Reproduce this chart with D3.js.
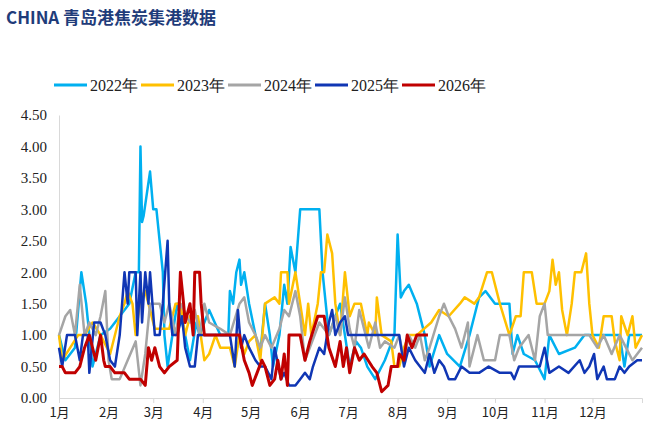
<!DOCTYPE html>
<html>
<head>
<meta charset="utf-8">
<script src="https://cdn.jsdelivr.net/npm/d3@7"></script>
<style>
  body { margin: 0; background: #fff; }
  svg { display: block; }
</style>
</head>
<body>
<svg id="chart" width="665" height="441"></svg>
<script>
// day of year, value pairs
var years = ["2022年", "2023年", "2024年", "2025年", "2026年"];
var colors = ["#00B0F0", "#FFC000", "#A5A5A5", "#1036B4", "#C00000"];
var monthStarts = [0, 31, 59, 90, 120, 151, 181, 212, 243, 273, 304, 334];
var monthLabels = ["1月", "2月", "3月", "4月", "5月", "6月", "7月", "8月", "9月", "10月", "11月", "12月"];
var yTicks = [0, 0.5, 1, 1.5, 2, 2.5, 3, 3.5, 4, 4.5];

var s2022 = [0,1.0, 4,0.6, 10,0.8, 14,2.0, 17,1.5, 21,0.5, 26,1.0, 32,1.1, 38,1.3, 44,1.5, 48,2.0, 50,2.0, 51,4.0, 52,2.8, 53,2.9, 57,3.6, 59,3.0, 61,3.0, 63,2.5, 65,2.0, 66,1.0, 68,0.5, 71,1.0, 74,1.5, 79,1.0, 82,0.6, 86,1.2, 88,1.0, 94,1.4, 101,1.0, 106,1.0, 107,1.7, 109,1.5, 111,2.0, 113,2.2, 114,1.8, 116,2.0, 119,1.5, 123,1.0, 126,0.7, 129,1.5, 132,1.0, 134,0.5, 138,1.0, 141,1.8, 143,1.5, 145,2.4, 148,2.0, 151,3.0, 163,3.0, 165,2.0, 167,1.5, 169,1.0, 173,1.3, 176,1.5, 179,1.0, 182,0.5, 186,0.9, 189,0.8, 193,0.5, 198,0.3, 204,0.6, 210,1.0, 212,2.6, 214,1.6, 216,1.7, 219,1.8, 224,1.5, 229,1.0, 232,0.5, 238,1.0, 243,0.7, 251,0.5, 257,1.0, 261,1.4, 263,1.6, 267,1.7, 273,1.5, 282,1.5, 284,0.7, 287,1.0, 291,0.7, 298,0.6, 304,0.3, 307,1.0, 313,0.7, 323,0.8, 329,1.0, 351,1.0, 354,0.5, 357,1.0, 365,1.0];
var s2023 = [0,1.0, 2,0.6, 7,0.8, 12,1.0, 16,1.0, 21,1.2, 26,1.0, 32,0.7, 38,1.3, 41,1.5, 43,1.7, 46,1.5, 48,1.0, 51,1.6, 54,1.7, 56,1.5, 60,1.1, 69,1.1, 73,1.5, 76,1.5, 79,1.0, 82,1.3, 87,1.3, 91,0.6, 94,0.7, 98,1.0, 101,0.8, 107,0.8, 110,0.5, 113,1.0, 116,0.7, 119,0.9, 123,1.0, 126,0.6, 129,1.5, 135,1.6, 138,1.5, 139,2.0, 143,2.0, 144,1.5, 148,2.0, 151,1.5, 154,1.0, 156,1.5, 158,1.0, 162,1.5, 164,2.0, 166,2.0, 168,2.6, 171,2.3, 173,1.5, 176,1.0, 179,2.0, 182,1.3, 185,1.5, 189,1.5, 193,1.0, 194,1.2, 198,1.0, 199,1.6, 202,1.0, 208,0.9, 210,0.5, 213,0.5, 216,0.8, 219,1.0, 224,1.0, 233,1.2, 238,1.4, 244,1.3, 251,1.5, 254,1.6, 260,1.5, 263,1.6, 268,2.0, 271,2.0, 276,1.5, 282,1.0, 286,1.3, 289,1.3, 291,2.0, 296,2.0, 299,1.5, 304,1.5, 307,1.7, 309,2.2, 311,1.8, 313,2.0, 315,1.4, 318,1.0, 321,1.5, 323,2.0, 327,2.0, 330,2.3, 332,1.5, 334,1.0, 338,0.8, 341,1.3, 346,1.3, 348,0.9, 351,0.6, 352,1.3, 356,1.0, 359,1.3, 361,0.8, 365,1.0];
var s2024 = [0,1.0, 4,1.3, 7,1.4, 10,1.0, 13,1.8, 16,1.0, 19,1.2, 23,1.0, 26,1.3, 29,1.7, 31,0.6, 33,0.3, 38,0.3, 43,0.6, 48,0.9, 51,0.2, 54,0.7, 57,1.5, 63,1.5, 66,1.2, 69,1.5, 73,1.0, 76,1.5, 82,1.2, 85,1.4, 88,1.0, 91,1.5, 94,1.2, 101,1.1, 107,1.0, 113,1.5, 116,1.6, 119,1.2, 123,1.0, 126,0.8, 129,1.0, 133,0.8, 138,1.1, 141,1.4, 144,1.3, 148,1.7, 151,1.3, 154,0.6, 157,0.8, 163,1.2, 169,1.0, 173,1.3, 176,1.0, 179,1.6, 182,1.1, 185,0.8, 188,1.4, 191,1.1, 194,0.8, 198,1.2, 201,0.8, 204,0.9, 210,0.8, 213,1.0, 216,0.6, 219,1.0, 223,0.8, 226,1.0, 229,0.6, 232,0.8, 238,1.3, 241,1.5, 244,1.3, 248,1.1, 252,0.8, 256,1.2, 257,0.5, 262,1.0, 266,0.6, 273,0.6, 276,1.0, 282,1.0, 285,0.6, 288,0.8, 294,1.0, 298,0.6, 301,1.3, 304,1.5, 306,1.0, 308,1.0, 313,1.0, 323,1.0, 332,1.0, 337,0.8, 341,1.0, 346,0.7, 351,1.0, 355,0.8, 359,0.6, 365,0.8];
var s2025 = [0,0.8, 2,0.5, 5,1.0, 10,1.0, 13,0.6, 15,1.0, 18,1.0, 19,0.4, 22,1.2, 26,1.2, 29,1.0, 32,0.6, 35,0.5, 38,1.0, 41,2.0, 43,1.5, 44,2.0, 48,2.0, 49,1.0, 51,2.0, 52,1.2, 54,2.0, 56,1.5, 57,2.0, 60,1.0, 63,1.0, 65,1.5, 68,2.5, 69,1.5, 71,1.0, 74,1.0, 77,1.3, 79,0.8, 82,0.5, 85,0.5, 87,1.0, 107,1.0, 110,0.5, 112,1.4, 114,0.8, 116,1.0, 119,0.8, 123,0.6, 126,0.5, 129,0.5, 133,0.3, 135,0.8, 139,0.3, 141,0.4, 144,0.2, 148,0.2, 151,0.3, 154,0.4, 157,0.3, 159,0.5, 163,0.8, 166,0.7, 169,1.2, 171,1.4, 173,1.0, 176,1.2, 179,1.3, 181,1.0, 213,1.0, 216,0.5, 219,0.8, 223,0.6, 226,0.5, 229,0.4, 232,0.7, 235,0.4, 238,0.6, 241,0.5, 244,0.3, 248,0.3, 252,0.5, 257,0.4, 263,0.4, 269,0.5, 276,0.4, 283,0.4, 285,0.3, 288,0.5, 301,0.5, 304,0.8, 307,0.4, 313,0.5, 319,0.4, 326,0.6, 329,0.4, 332,0.5, 335,0.7, 337,0.3, 341,0.5, 343,0.3, 348,0.3, 351,0.5, 354,0.4, 357,0.5, 362,0.6, 365,0.6];
var s2026 = [0,0.5, 2,0.5, 4,0.4, 10,0.4, 13,0.5, 16,0.8, 19,1.0, 23,0.6, 26,1.0, 28,0.6, 29,0.5, 32,0.5, 35,0.4, 41,0.4, 44,0.3, 51,0.3, 54,0.2, 56,0.8, 58,0.6, 60,0.8, 63,0.5, 66,0.4, 69,0.5, 74,0.6, 76,2.0, 78,1.5, 79,1.2, 82,1.5, 84,1.0, 85,2.0, 88,2.0, 89,1.5, 91,1.0, 113,1.0, 116,0.6, 119,0.4, 121,0.2, 124,0.4, 127,0.6, 129,0.5, 132,0.2, 135,0.3, 137,0.6, 139,0.3, 141,0.7, 143,0.2, 144,1.0, 151,1.0, 154,0.6, 157,0.9, 162,1.3, 166,1.3, 169,0.8, 173,0.5, 176,0.9, 178,0.5, 180,0.8, 182,0.4, 185,0.8, 188,0.6, 191,0.7, 196,0.5, 199,0.4, 202,0.1, 206,0.2, 208,0.5, 212,0.5, 213,0.7, 216,0.6, 218,1.0, 221,0.8, 224,1.0, 231,1.0];

var allSeries = [s2022, s2023, s2024, s2025, s2026];

var svg = d3.select("#chart");
var plotLeft = 59, plotRight = 642, plotTop = 115, plotBottom = 398;

var x = d3.scaleLinear().domain([0, 365]).range([plotLeft, plotRight]);
var y = d3.scaleLinear().domain([0, 4.5]).range([plotBottom, plotTop]);

// title
svg.append("text")
    .attr("x", 6).attr("y", 24)
    .style("font", "bold 17px 'Noto Sans CJK SC', sans-serif")
    .attr("fill", "#1F3C7A")
    .text("CHINA 青岛港焦炭集港数据");

// axes
var yAxis = d3.axisLeft(y).tickValues(yTicks).tickSize(0).tickPadding(12)
    .tickFormat(d3.format(".2f"));
var gy = svg.append("g").attr("transform", "translate(" + plotLeft + ",0)").call(yAxis);
gy.select(".domain").attr("stroke", "#D9D9D9");
gy.selectAll("text").style("font", "15px 'Liberation Serif', serif").attr("fill", "#222");

var xAxis = d3.axisBottom(x).tickValues(monthStarts).tickSize(5).tickPadding(5)
    .tickFormat(function (d, i) { return monthLabels[i]; });
var gx = svg.append("g").attr("transform", "translate(0," + plotBottom + ")").call(xAxis);
gx.select(".domain").attr("stroke", "#D9D9D9");
gx.selectAll("line").attr("stroke", "#D9D9D9");
gx.selectAll("text").style("font", "13px 'Noto Sans CJK SC', serif").attr("fill", "#222");

// lines
var line = d3.line()
    .x(function (d) { return x(d[0]); })
    .y(function (d) { return y(d[1]); });

allSeries.forEach(function (s, i) {
    var pts = [];
    for (var k = 0; k < s.length; k += 2) pts.push([s[k], s[k + 1]]);
    svg.append("path")
        .datum(pts)
        .attr("fill", "none")
        .attr("stroke", colors[i])
        .attr("stroke-width", i === 4 ? 3 : 2.5)
        .attr("stroke-linejoin", "round")
        .attr("d", line);
});

// legend
var legend = svg.append("g").attr("transform", "translate(54,85)");
years.forEach(function (name, i) {
    var g = legend.append("g").attr("transform", "translate(" + (i * 87) + ",0)");
    g.append("line").attr("x1", 0).attr("x2", 33).attr("y1", 0).attr("y2", 0)
        .attr("stroke", colors[i]).attr("stroke-width", 3);
    g.append("text").attr("x", 36).attr("y", 6)
        .style("font", "16px 'Liberation Serif', serif").attr("fill", "#222")
        .text(name);
});
</script>
</body>
</html>
